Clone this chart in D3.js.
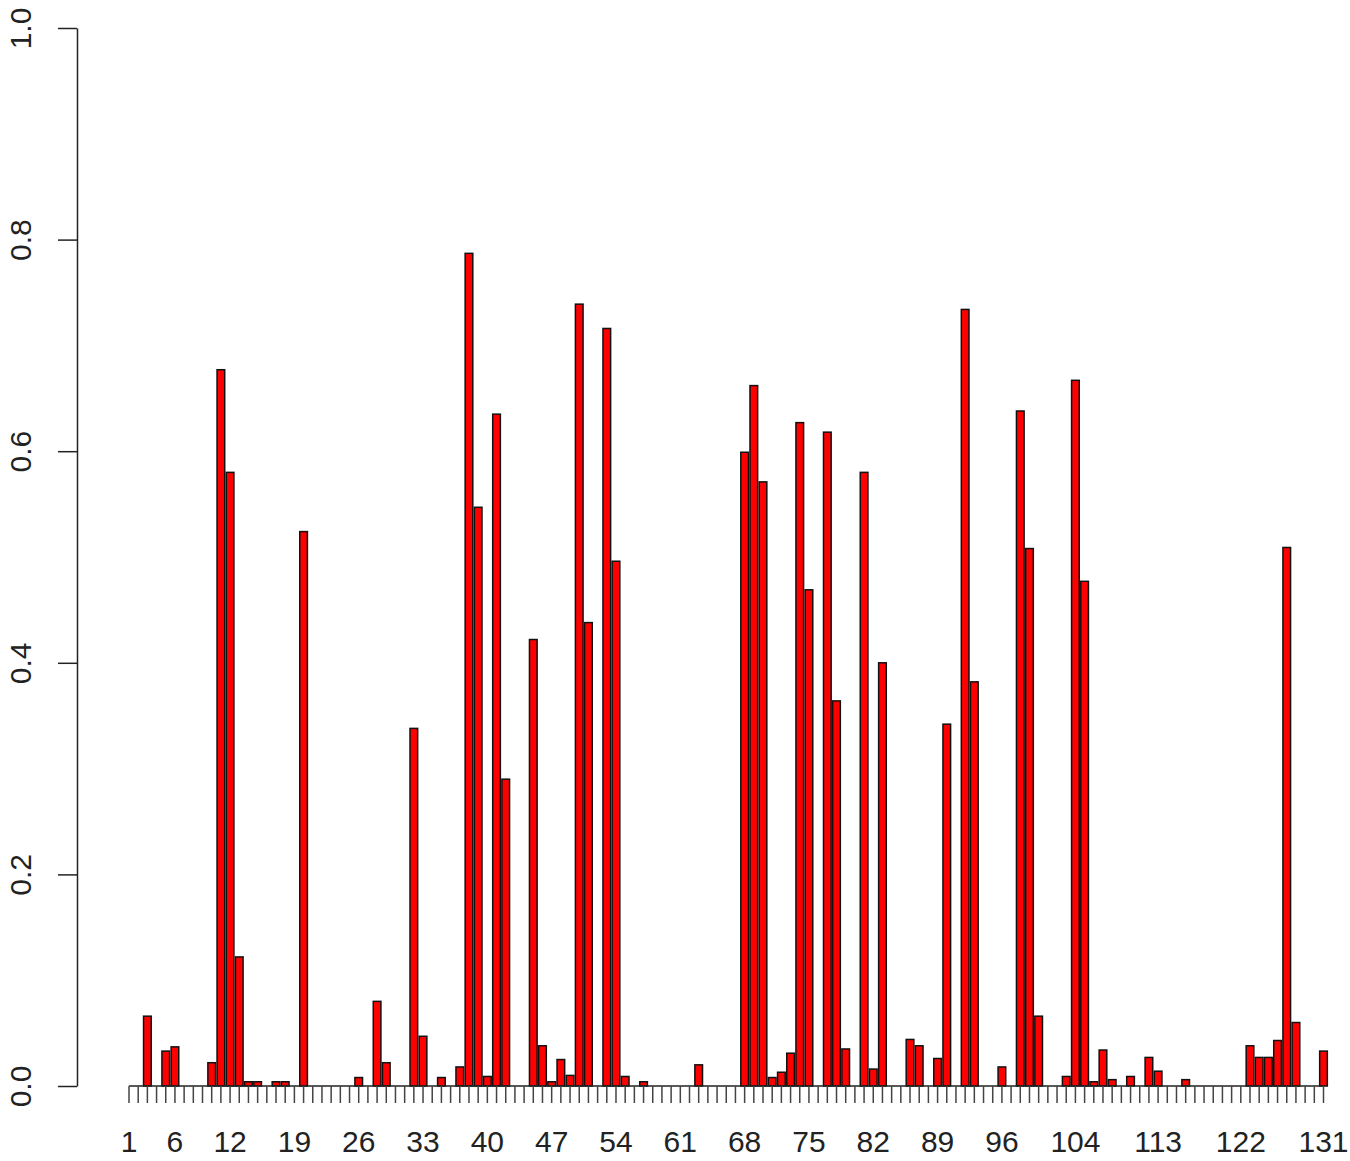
<!DOCTYPE html>
<html>
<head>
<meta charset="utf-8">
<script src="https://cdn.jsdelivr.net/npm/d3@7"></script>
<style>
  body { margin: 0; background: #fff; }
  svg text { font-family: "Liberation Sans", Arial, sans-serif; fill: #222; }
</style>
</head>
<body>
<svg id="chart" width="1350" height="1161"></svg>
<script>
// bar values, one per index 1..131
const values = [
  0, 0, 0.066, 0, 0.033, 0.037, 0, 0, 0, 0.022,
  0.677, 0.580, 0.122, 0.004, 0.004, 0, 0.004, 0.004, 0, 0.524,
  0, 0, 0, 0, 0, 0.008, 0, 0.080, 0.022, 0,
  0, 0.338, 0.047, 0, 0.008, 0, 0.018, 0.787, 0.547, 0.009,
  0.635, 0.290, 0, 0, 0.422, 0.038, 0.004, 0.025, 0.010, 0.739,
  0.438, 0, 0.716, 0.496, 0.009, 0, 0.004, 0, 0, 0,
  0, 0, 0.020, 0, 0, 0, 0, 0.599, 0.662, 0.571,
  0.008, 0.013, 0.031, 0.627, 0.469, 0, 0.618, 0.364, 0.035, 0,
  0.580, 0.016, 0.400, 0, 0, 0.044, 0.038, 0, 0.026, 0.342,
  0, 0.734, 0.382, 0, 0, 0.018, 0, 0.638, 0.508, 0.066,
  0, 0, 0.009, 0.667, 0.477, 0.004, 0.034, 0.006, 0, 0.009,
  0, 0.027, 0.014, 0, 0, 0.006, 0, 0, 0, 0,
  0, 0, 0.038, 0.027, 0.027, 0.043, 0.509, 0.060, 0, 0,
  0.033
];
const categories = values.map((v, i) => i + 1);
// labels R managed to fit under the axis
const xLabels = [1, 6, 12, 19, 26, 33, 40, 47, 54, 61, 68, 75, 82, 89, 96, 104, 113, 122, 131];
const yTicks = [0, 0.2, 0.4, 0.6, 0.8, 1.0];

const svg = d3.select("#chart");

// first bar centred near 129, last near 1323
const first = 129, last = 1323.5;
const step = (last - first) / (categories.length - 1);
const x = d3.scaleBand()
    .domain(categories)
    .range([first - step / 2, last + step / 2])
    .paddingInner(1 / 6)
    .paddingOuter(1 / 12);

const y = d3.scaleLinear().domain([0, 1]).range([1086, 28]);

// bars
svg.append("g")
  .selectAll("rect")
  .data(categories)
  .enter()
  .append("rect")
    .attr("x", d => x(d))
    .attr("y", d => y(values[d - 1]))
    .attr("width", x.bandwidth())
    .attr("height", d => y(0) - y(values[d - 1]))
    .attr("fill", "#ff0000")
    .attr("stroke", "#111")
    .attr("stroke-width", 1.5);

// x axis: a tick under every bar, labels only where they fit
const xAxis = d3.axisBottom(x)
    .tickSize(17)
    .tickSizeOuter(0)
    .tickFormat(d => xLabels.includes(d) ? d : "");

const gx = svg.append("g")
    .attr("transform", `translate(0,${y(0)})`)
    .call(xAxis);
gx.select(".domain")
    .attr("d", `M${x(1) + x.bandwidth() / 2},0H${x(131) + x.bandwidth() / 2}`)
    .attr("stroke", "#222")
    .attr("stroke-width", 1.5);
gx.selectAll(".tick line").attr("stroke", "#444").attr("stroke-width", 1.5);
gx.selectAll(".tick text")
    .attr("y", 66)
    .attr("dy", 0)
    .style("font-size", "30px")
    .style("font-family", "'Liberation Sans', Arial, sans-serif")
    .attr("fill", "#222");

// y axis
const yAxis = d3.axisLeft(y)
    .tickValues(yTicks)
    .tickSize(19)
    .tickSizeOuter(0)
    .tickFormat(d3.format(".1f"));

const gy = svg.append("g")
    .attr("transform", "translate(77,0)")
    .call(yAxis);
gy.select(".domain").attr("stroke", "#222").attr("stroke-width", 1.5);
gy.selectAll(".tick line").attr("stroke", "#222").attr("stroke-width", 1.5);
gy.selectAll(".tick text")
    .attr("x", 0)
    .attr("dy", 0)
    .attr("text-anchor", "middle")
    .attr("transform", "translate(-46,0) rotate(-90)")
    .style("font-size", "30px")
    .style("font-family", "'Liberation Sans', Arial, sans-serif")
    .attr("fill", "#333");
</script>
</body>
</html>
